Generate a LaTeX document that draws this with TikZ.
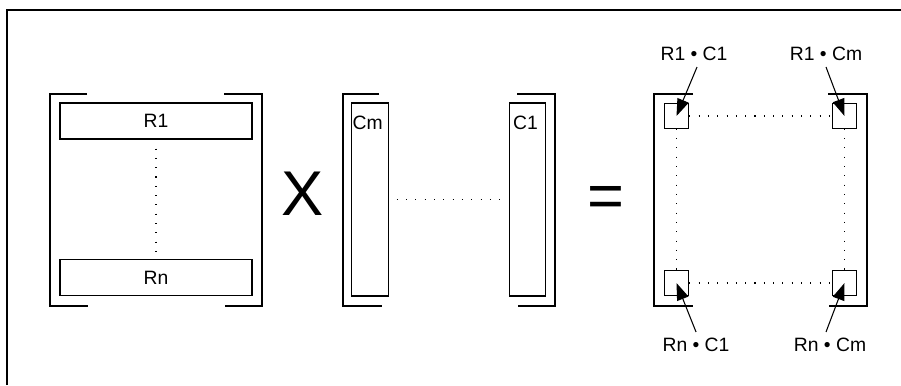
\documentclass[tikz,border=0pt]{standalone}
\usepackage{fontspec}
\setmainfont{Liberation Sans}
\usetikzlibrary{arrows.meta, positioning}

\begin{document}
\begin{tikzpicture}[
    x=0.02cm, y=-0.02cm,
    row/.style={rectangle, draw, line width=0.6pt, minimum width=3.84cm, minimum height=0.72cm, inner sep=0pt, font=\fontsize{11}{13}\selectfont},
    col/.style={rectangle, draw, line width=0.6pt, minimum width=0.73cm, minimum height=3.86cm, inner sep=0pt},
    cell/.style={rectangle, draw, line width=0.6pt, minimum size=0.49cm, inner sep=0pt},
    bracket/.style={line width=0.6pt},
    dots/.style={line width=0.6pt, dash pattern=on 0.6pt off 4.7pt},
    big/.style={font=\fontsize{36}{40}\selectfont, inner sep=0pt},
    label/.style={font=\fontsize{11}{13}\selectfont},
    point/.style={-{Triangle[length=3.4mm, width=2.4mm]}, line width=0.6pt}
]
    \useasboundingbox (0,0) rectangle (901,385);

    % Outer frame
    \draw[line width=1.1pt] (7,385) -- (7,10) -- (901,10);

    % Row matrix
    \node[row] (r1) at (156,121) {R1};
    \node[row] (rn) at (156,277.5) {Rn};
    \draw[dots, shorten <=0.18cm, shorten >=0.14cm] (r1) -- (rn);
    \draw[bracket] (87,94) -- (50,94) -- (50,306) -- (88,306);
    \draw[bracket] (224,94) -- (262,94) -- (262,306) -- (225,306);

    \node[big] (times) at (302.5,194) {X};

    % Column matrix
    \node[col] (cm) at (370,199.5) {};
    \node[col] (c1) at (527.5,199.5) {};
    \node[label, anchor=north west, inner sep=0pt] (cmtext) at ([xshift=0.02cm, yshift=-0.27cm]cm.north west) {Cm};
    \node[label, anchor=north west, inner sep=0pt] (c1text) at ([xshift=0.08cm, yshift=-0.27cm]c1.north west) {C1};
    \draw[dots, shorten <=0.16cm, shorten >=0.16cm] (cm) -- (c1);
    \draw[bracket] (379,94) -- (343,94) -- (343,306) -- (382,306);
    \draw[bracket] (517,94) -- (555,94) -- (555,306) -- (518,306);

    \node[big] (equals) at (606,202) {=};

    % Result matrix
    \node[cell] (c11) at (676.5,116) {};
    \node[cell] (c1m) at (844.5,116) {};
    \node[cell] (cn1) at (676.5,283) {};
    \node[cell] (cnm) at (844.5,283) {};
    \draw[dots] (c11) -- (c1m);
    \draw[dots] (cn1) -- (cnm);
    \draw[dots] (c11) -- (cn1);
    \draw[dots] (c1m) -- (cnm);
    \draw[bracket] (693,94) -- (654,94) -- (654,306) -- (693,306);
    \draw[bracket] (828,94) -- (867,94) -- (867,306) -- (829,306);

    % Products
    \node[label] (l11) at (694,54) {R1 • C1};
    \node[label] (l1m) at (826,54) {R1 • Cm};
    \node[label] (ln1) at (696,345) {Rn • C1};
    \node[label] (lnm) at (830,345) {Rn • Cm};
    \draw[point] ([xshift=0.06cm]l11.south) -- (c11.center);
    \draw[point] (l1m.south) -- (c1m.center);
    \draw[point] (ln1.north) -- (cn1.center);
    \draw[point] ([xshift=-0.08cm]lnm.north) -- (cnm.center);

\end{tikzpicture}
\end{document}
